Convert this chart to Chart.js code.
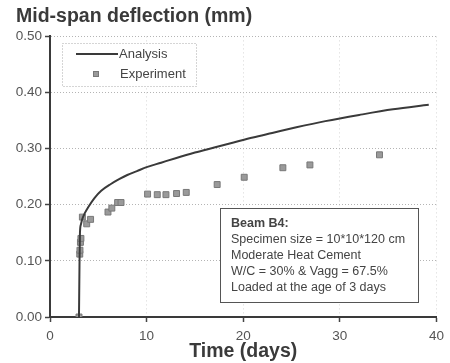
<!DOCTYPE html>
<html>
<head>
<meta charset="utf-8">
<script src="https://cdn.jsdelivr.net/npm/chart.js@4.4.1/dist/chart.umd.min.js"></script>
<style>
  body { margin: 0; background: #fff; }
  #wrap { width: 450px; height: 363px; }
</style>
</head>
<body>
<div id="wrap"><canvas id="deflectionChart" width="450" height="363"></canvas></div>
<script>
// Beam B4 - mid-span deflection vs time
const analysisDays = [3, 3.05, 3.1, 3.2, 3.35, 3.6, 4.0, 4.6, 5.3, 6.3, 7.2, 8.0, 9.0, 10.0, 11.5, 13.0, 15.0, 17.0, 19.0, 21.0, 23.0, 25.5, 28.5, 32.0, 35.5, 39.2];
const analysisDefl = [0, 0.09, 0.15, 0.165, 0.175, 0.185, 0.197, 0.212, 0.225, 0.237, 0.246, 0.253, 0.26, 0.267, 0.275, 0.283, 0.293, 0.302, 0.311, 0.320, 0.328, 0.338, 0.349, 0.360, 0.370, 0.378];

const expDays = [3.0, 3.08, 3.1, 3.15, 3.2, 3.35, 3.8, 4.2, 6.0, 6.4, 7.0, 7.35, 10.1, 11.1, 12.0, 13.1, 14.1, 17.3, 20.1, 24.1, 26.9, 34.1];
const expDefl = [0, 0.112, 0.119, 0.133, 0.14, 0.178, 0.166, 0.174, 0.187, 0.194, 0.204, 0.204, 0.219, 0.218, 0.218, 0.220, 0.222, 0.236, 0.249, 0.266, 0.271, 0.289];

const noteTitle = 'Beam B4:';
const noteLines = [
  'Specimen size = 10*10*120 cm',
  'Moderate Heat Cement',
  'W/C = 30% & Vagg = 67.5%',
  'Loaded at the age of 3 days'
];

const FONT = "Arial, 'Liberation Sans', sans-serif";
const TEXT = '#444';

const toPoints = (xs, ys) => xs.map((x, i) => ({ x: x, y: ys[i] }));

// legend + note box drawn inside the plot area
const boxesPlugin = {
  id: 'boxes',
  afterDatasetsDraw(chart) {
    const ctx = chart.ctx;
    ctx.save();

    // legend
    const lx = 62, ly = 43, lw = 134, lh = 43;
    ctx.fillStyle = '#fff';
    ctx.fillRect(lx, ly, lw, lh);
    ctx.strokeStyle = '#aaa';
    ctx.lineWidth = 1;
    ctx.setLineDash([1, 2]);
    ctx.strokeRect(lx + 0.5, ly + 0.5, lw, lh);
    ctx.setLineDash([]);

    const dsLine = chart.data.datasets[0];
    const dsPts = chart.data.datasets[1];
    ctx.font = '13px ' + FONT;
    ctx.textBaseline = 'middle';
    ctx.fillStyle = TEXT;

    ctx.strokeStyle = dsLine.borderColor;
    ctx.lineWidth = dsLine.borderWidth;
    ctx.beginPath();
    ctx.moveTo(76, 54);
    ctx.lineTo(118, 54);
    ctx.stroke();
    ctx.fillText(dsLine.label, 119, 54);

    ctx.fillStyle = dsPts.backgroundColor;
    ctx.strokeStyle = dsPts.borderColor;
    ctx.lineWidth = 1;
    ctx.fillRect(93, 71, 6, 6);
    ctx.strokeRect(93.5, 71.5, 5, 5);
    ctx.fillStyle = TEXT;
    ctx.fillText(dsPts.label, 120, 74);

    // note box
    const nx = 220, ny = 208, nw = 198, nh = 94;
    ctx.fillStyle = '#fff';
    ctx.fillRect(nx, ny, nw, nh);
    ctx.strokeStyle = '#555';
    ctx.lineWidth = 1;
    ctx.strokeRect(nx + 0.5, ny + 0.5, nw, nh);

    ctx.fillStyle = TEXT;
    ctx.font = 'bold 12.5px ' + FONT;
    ctx.fillText(noteTitle, 231, 223.5);
    ctx.font = '12.5px ' + FONT;
    noteLines.forEach((t, i) => {
      ctx.fillText(t, 231, 239.5 + i * 16.1);
    });

    ctx.restore();
  }
};

const ctx = document.getElementById('deflectionChart').getContext('2d');
const chart = new Chart(ctx, {
  type: 'scatter',
  data: {
    datasets: [
      {
        label: 'Analysis',
        data: toPoints(analysisDays, analysisDefl),
        showLine: true,
        borderColor: '#3a3a3a',
        borderWidth: 2,
        pointRadius: 0,
        cubicInterpolationMode: 'monotone',
        fill: false
      },
      {
        label: 'Experiment',
        data: toPoints(expDays, expDefl),
        showLine: false,
        pointStyle: 'rect',
        pointRadius: 4.2,
        backgroundColor: '#9a9a9a',
        borderColor: '#787878',
        borderWidth: 1
      }
    ]
  },
  options: {
    responsive: false,
    animation: false,
    layout: { padding: { left: 16, right: 10, top: 0, bottom: 0 } },
    plugins: {
      legend: { display: false },
      tooltip: { enabled: false },
      title: {
        display: true,
        text: 'Mid-span deflection (mm)',
        align: 'start',
        color: '#3a3a3a',
        font: { family: FONT, size: 19.5, weight: 'bold' },
        padding: { top: 5, bottom: 8 }
      }
    },
    scales: {
      x: {
        type: 'linear',
        min: 0,
        max: 40,
        ticks: {
          stepSize: 10,
          color: '#555',
          font: { family: FONT, size: 13.5 },
          padding: 6,
          maxRotation: 0
        },
        grid: {
          color: (c) => c.tick && c.tick.value === 0 ? 'rgba(0,0,0,0)' : '#d6d6d6',
          tickColor: '#444',
          tickLength: 5,
          tickWidth: 1.5,
          lineWidth: 1
        },
        border: { color: '#3a3a3a', width: 2, dash: [1, 3] },
        title: {
          display: true,
          text: 'Time (days)',
          color: '#3a3a3a',
          font: { family: FONT, size: 19.5, weight: 'bold' },
          padding: { top: 0, bottom: 0 }
        },
        afterFit: (scale) => { scale.height = 46; }
      },
      y: {
        type: 'linear',
        min: 0,
        max: 0.5,
        ticks: {
          stepSize: 0.1,
          color: '#555',
          font: { family: FONT, size: 13.5 },
          padding: 3,
          callback: (v) => Number(v).toFixed(2)
        },
        grid: {
          color: (c) => c.tick && c.tick.value === 0 ? 'rgba(0,0,0,0)' : '#b4b4b4',
          tickColor: '#444',
          tickLength: 5,
          tickWidth: 1.5,
          lineWidth: 1
        },
        border: { color: '#3a3a3a', width: 2, dash: [1, 2] },
        afterFit: (scale) => { scale.width = 34; }
      }
    }
  },
  plugins: [boxesPlugin]
});
</script>
</body>
</html>
